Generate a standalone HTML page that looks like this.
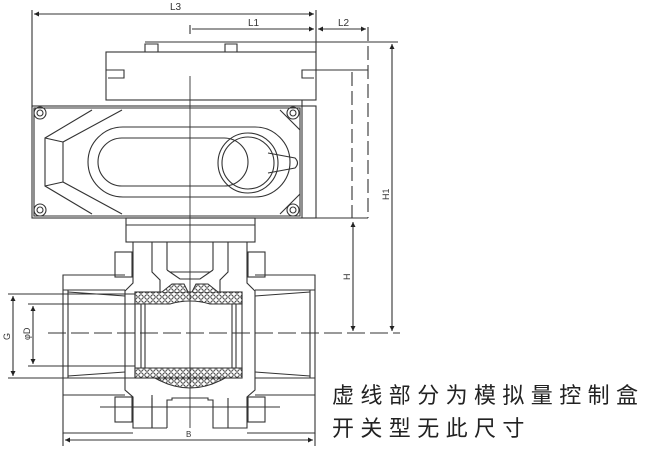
<!DOCTYPE html>
<html><head><meta charset="utf-8"><style>
html,body{margin:0;padding:0;background:#fff;}
svg{display:block;}
</style></head><body>
<svg width="654" height="450" viewBox="0 0 654 450" xmlns="http://www.w3.org/2000/svg" font-family="Liberation Sans, sans-serif">
<defs>
<marker id="a" viewBox="0 0 10 10" refX="10" refY="5" markerWidth="9" markerHeight="5" orient="auto-start-reverse" markerUnits="userSpaceOnUse"><path d="M0,0 L10,5 L0,10 z" fill="#222"/></marker>
<pattern id="hx" width="6" height="6" patternUnits="userSpaceOnUse"><rect width="6" height="6" fill="#fff"/><circle cx="3" cy="3" r="2.2" fill="none" stroke="#333" stroke-width="0.9"/></pattern>
</defs>
<g stroke="#333" stroke-width="1.1" fill="none">
<line x1="32" y1="10" x2="32" y2="108"/>
<line x1="316" y1="10" x2="316" y2="52"/>
<line x1="34" y1="14" x2="314" y2="14" marker-start="url(#a)" marker-end="url(#a)"/>
<line x1="190" y1="25" x2="190" y2="34"/>
<line x1="192" y1="29" x2="314" y2="29" marker-end="url(#a)"/>
<line x1="318" y1="29" x2="366" y2="29" marker-start="url(#a)" marker-end="url(#a)"/>
<line x1="368" y1="27" x2="368" y2="218" stroke-dasharray="14,5"/>
<line x1="145" y1="42" x2="398" y2="42"/>
<path d="M145,52 V44 H158 V52 M225,52 V44 H237 V52"/>
<rect x="106" y="52" width="210" height="48"/>
<path d="M106,70 H124 V78 H108 M316,70 H302 V78 H314"/>
<line x1="316" y1="70" x2="368" y2="70"/>
<line x1="352" y1="72" x2="352" y2="218" stroke-dasharray="14,5"/>
<rect x="32" y="106" width="284" height="112"/>
<line x1="302" y1="100" x2="302" y2="218"/>
<line x1="32" y1="218" x2="368" y2="218"/>
<path d="M34,108 H300 V216 H34 Z"/>
<path d="M92,110 L45,138 V186 L92,214"/>
<path d="M122,110 L63,142 V182 L122,214"/>
<line x1="45" y1="138" x2="63" y2="142"/><line x1="45" y1="186" x2="63" y2="182"/>
<path d="M280,110 L300,130 M280,214 L300,194"/>
<rect x="88" y="127" width="202" height="70" rx="35"/>
<rect x="98" y="138" width="150" height="48" rx="24"/>
<circle cx="248" cy="163" r="30"/>
<circle cx="248" cy="163" r="26"/>
<path d="M268,153 L295,158 Q300,163 295,168 L268,173"/>
<circle cx="40" cy="113" r="6"/><circle cx="40" cy="113" r="3"/>
<circle cx="293" cy="113" r="6"/><circle cx="293" cy="113" r="3"/>
<circle cx="40" cy="210" r="6"/><circle cx="40" cy="210" r="3"/>
<circle cx="293" cy="210" r="6"/><circle cx="293" cy="210" r="3"/>
<rect x="126" y="218" width="129" height="24"/>
<line x1="126" y1="225" x2="255" y2="225"/>
<line x1="353" y1="222" x2="353" y2="331" marker-start="url(#a)" marker-end="url(#a)"/>
<line x1="392" y1="44" x2="392" y2="331" marker-start="url(#a)" marker-end="url(#a)"/>
<!-- pipe ends -->
<path d="M125,275 H63 V433 H133"/>
<path d="M255,275 H315 V433 H247"/>
<line x1="68" y1="290" x2="68" y2="378"/><line x1="310" y1="290" x2="310" y2="378"/>
<path d="M63,290 H125 M63,378 H125 M255,290 H315 M255,378 H315"/>
<path d="M68,292 L125,296 M68,376 L125,372 M310,292 L255,296 M310,376 L255,372"/>
<line x1="63" y1="395" x2="125" y2="395"/><line x1="255" y1="395" x2="315" y2="395"/>
<!-- central body -->
<path d="M133,242 V283 L125,291 V390 L133,397 V428 H152 V398"/>
<path d="M247,242 V283 L255,291 V390 L247,397 V428 H228 V398"/>
<path d="M152,242 V272 L160,280 V292 M167,242 V270 M228,242 V272 L220,280 V292 M213,242 V270"/>
<path d="M167,270 L180,279 H200 L213,270 M170,272 H210"/>
<path d="M152,428 V395 M167,428 V400 H172 V398 H208 V400 H213 V428 H228 M152,428 H167"/>
<!-- bolts -->
<rect x="115" y="252" width="17" height="25"/><rect x="248" y="252" width="17" height="25"/>
<rect x="115" y="397" width="17" height="25"/><rect x="248" y="397" width="17" height="25"/>
<line x1="100" y1="407" x2="280" y2="407"/>
<!-- ball -->
<rect x="135" y="292" width="107" height="86" fill="#fff"/>
<path d="M135,292 H242 V304 H210 Q190,298 170,304 H135 Z" fill="url(#hx)"/>
<path d="M162,292 L172,284 H184 L188,292 M218,292 L208,284 H196 L192,292" fill="url(#hx)"/>
<path d="M135,378 H242 V368 H135 Z" fill="url(#hx)"/>
<path d="M155,378 Q190,398 225,378 Z" fill="url(#hx)"/>
<line x1="141" y1="304" x2="141" y2="368"/><line x1="236" y1="304" x2="236" y2="368"/>
<line x1="145" y1="304" x2="145" y2="368"/><line x1="232" y1="304" x2="232" y2="368"/>
<line x1="190" y1="76" x2="190" y2="428" stroke-width="0.9"/>
<line x1="48" y1="333" x2="400" y2="333" stroke-dasharray="18,5" stroke-width="0.9"/>
<line x1="8" y1="294" x2="135" y2="294"/><line x1="8" y1="378" x2="135" y2="378"/>
<line x1="28" y1="304" x2="135" y2="304"/><line x1="28" y1="366" x2="135" y2="366"/>
<line x1="13" y1="296" x2="13" y2="376" marker-start="url(#a)" marker-end="url(#a)"/>
<line x1="33" y1="306" x2="33" y2="364" marker-start="url(#a)" marker-end="url(#a)"/>
<line x1="63" y1="433" x2="63" y2="446"/><line x1="315" y1="433" x2="315" y2="446"/>
<line x1="65" y1="440" x2="313" y2="440" marker-start="url(#a)" marker-end="url(#a)"/>
</g>
<g font-size="10" fill="#333">
<text x="170" y="10">L3</text>
<text x="248" y="26">L1</text>
<text x="338" y="26">L2</text>
<text x="186" y="437" font-size="8">B</text>
<text transform="translate(389,200) rotate(-90)" font-size="9">H1</text>
<text transform="translate(350,280) rotate(-90)" font-size="9">H</text>
<text transform="translate(10,340) rotate(-90)" font-size="9">G</text>
<text transform="translate(30,340) rotate(-90)" font-size="9">φD</text>
</g>
<g font-family="Liberation Sans, Noto Sans CJK SC, sans-serif" font-size="22" fill="#222" letter-spacing="6.4">
<text x="332" y="403">虚线部分为模拟量控制盒</text>
<text x="332" y="436">开关型无此尺寸</text>
</g>
</svg>
</body></html>
